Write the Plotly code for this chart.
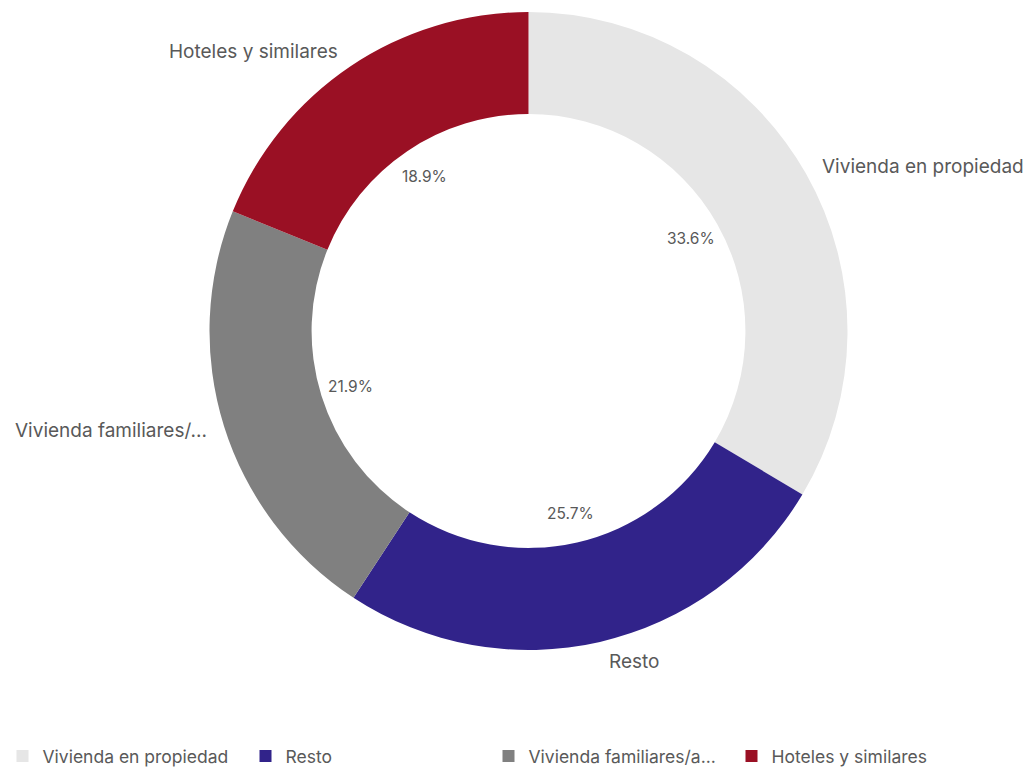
import math
import plotly.graph_objects as go

# ---- data ----
categories = ["Vivienda en propiedad", "Resto", "Vivienda familiares/amigos", "Hoteles y similares"]
legend_labels = ["Vivienda en propiedad", "Resto", "Vivienda familiares/a...", "Hoteles y similares"]
slice_labels = ["Vivienda en propiedad", "Resto", "Vivienda familiares/...", "Hoteles y similares"]
values = [33.6, 25.7, 21.9, 18.9]
colors = ["#e6e6e6", "#31238a", "#808080", "#9a1024"]

OFF = 8  # default page body margin
W, H = 1031, 769
cx, cy, R = 528.5 - OFF, 331.0 - OFF, 319.0  # pixel centre/radius of the donut (figure coords)
hole = 0.68
FONT = "Inter"
TXT = "#595959"

fig = go.Figure()
fig.add_trace(go.Pie(
    labels=legend_labels,
    values=values,
    customdata=categories,
    sort=False,
    direction="clockwise",
    rotation=0,
    hole=hole,
    marker=dict(colors=colors, line=dict(width=0)),
    textinfo="none",
    domain=dict(x=[(cx - R) / W, (cx + R) / W], y=[(H - cy - R) / H, (H - cy + R) / H]),
    hovertemplate="%{customdata}: %{value:.1f}%<extra></extra>",
))

# labels at each slice's mid angle: percentages inside the hole, categories outside
total = sum(values)
cum = 0.0
r_in = R * hole - 30
r_out = R + 10
h = 20  # approx. height used for offsetting outside labels
for v, name in zip(values, slice_labels):
    mid = (cum + v / 2) / total * 2 * math.pi
    cum += v
    s, c = math.sin(mid), math.cos(mid)

    px, py = cx + r_in * s, cy - r_in * c
    fig.add_annotation(
        x=px / W, y=1 - py / H, xref="paper", yref="paper",
        xanchor="center", yanchor="middle",
        text=f"{v:.1f}%", showarrow=False,
        font=dict(family=FONT, size=15.5, color=TXT),
    )

    sign = 1 if s > 0 else -1
    ox = cx + r_out * s + sign * h / 4
    oy = cy - r_out * c - (h / 2) * c * abs(c)
    fig.add_annotation(
        x=ox / W, y=1 - oy / H, xref="paper", yref="paper",
        xanchor="left" if sign > 0 else "right", yanchor="middle",
        text=name, showarrow=False,
        font=dict(family=FONT, size=19, color=TXT),
    )

fig.update_layout(
    width=W, height=H,
    margin=dict(l=0, r=0, t=0, b=0, autoexpand=False),
    paper_bgcolor="white", plot_bgcolor="white",
    showlegend=True,
    legend=dict(
        orientation="h", x=480.5 / W, xanchor="center", y=(H - (756 - OFF)) / H, yanchor="middle",
        entrywidth=198, entrywidthmode="pixels",
        font=dict(family=FONT, size=17.5, color=TXT),
        traceorder="normal",
    ),
)

fig.write_html("out.html")
